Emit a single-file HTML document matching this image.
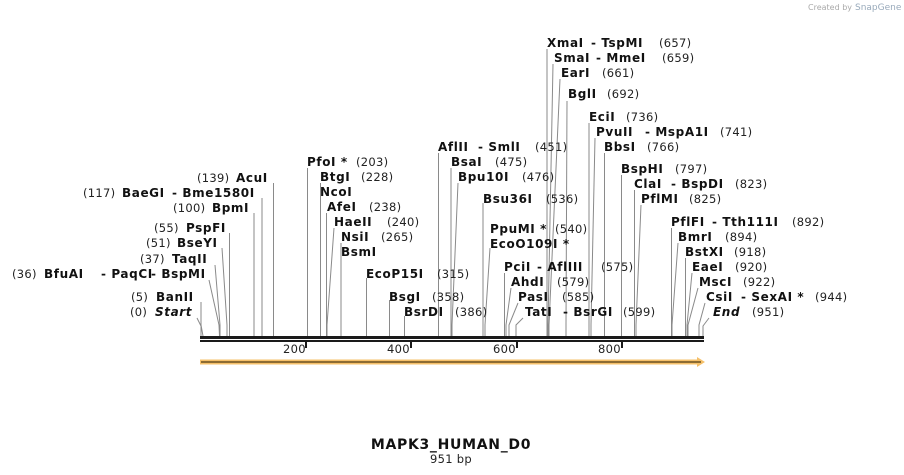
<!DOCTYPE html>
<html><head><meta charset="utf-8"><style>
html,body{margin:0;padding:0;background:#fff;width:904px;height:475px;overflow:hidden}
svg{display:block}
.b{font-family:"DejaVu Sans","Liberation Sans",sans-serif;font-weight:bold;font-size:12px;letter-spacing:0.6px;fill:#111}
.n{font-family:"DejaVu Sans","Liberation Sans",sans-serif;font-size:11.5px;letter-spacing:0.3px;fill:#222}
.i{font-style:italic}
line,polyline{stroke:#8a8a8a;stroke-width:1;fill:none}
</style></head><body>
<svg width="904" height="475" xmlns="http://www.w3.org/2000/svg">
<text x="808" y="10" font-family="DejaVu Sans,sans-serif" font-size="8" fill="#aaa">Created by</text>
<text x="855" y="10" font-family="DejaVu Sans,sans-serif" font-size="9" fill="#9ab">SnapGene</text>
<polyline points="197,318 201,326 201,336"/>
<polyline points="201,302 201,325 203,336"/>
<polyline points="209,280 219,325 219.5,336"/>
<polyline points="215,265 220,325 220,336"/>
<polyline points="222,248 227,325 227,336"/>
<polyline points="229.5,233 229.5,336"/>
<polyline points="254,213 254,336"/>
<polyline points="262,198 262,336"/>
<polyline points="273.5,183 273.5,336"/>
<polyline points="307.5,168 307.5,336"/>
<polyline points="320.5,183 320.5,336"/>
<polyline points="326.5,213 326.5,336"/>
<polyline points="334,228 327,325 327,336"/>
<polyline points="341,243 341,336"/>
<polyline points="366.5,278 366.5,336"/>
<polyline points="389.5,300 389.5,336"/>
<polyline points="404.5,316 404.5,336"/>
<polyline points="438.5,153 438.5,336"/>
<polyline points="451,168 451,336"/>
<polyline points="458,183 452,325 452,336"/>
<polyline points="483,203 483,336"/>
<polyline points="490,248 485,325 485,336"/>
<polyline points="504.5,273 504.5,336"/>
<polyline points="511,288 506,325 506,336"/>
<polyline points="518,303 509,325 509,336"/>
<polyline points="523,318 516,325 516,336"/>
<polyline points="547,49 547,336"/>
<polyline points="553,64 548,325 548,336"/>
<polyline points="560,79 549,325 549,336"/>
<polyline points="567,101 566,325 566,336"/>
<polyline points="589,123 589,336"/>
<polyline points="595,138 591,325 591,336"/>
<polyline points="604.5,153 604.5,336"/>
<polyline points="621.5,175 621.5,336"/>
<polyline points="634.5,190 634.5,336"/>
<polyline points="641,205 636,325 636,336"/>
<polyline points="671.5,228 671.5,336"/>
<polyline points="678,243 672,325 672,336"/>
<polyline points="685.5,258 685.5,336"/>
<polyline points="692,273 687,325 687,336"/>
<polyline points="698,288 688,325 688,336"/>
<polyline points="705,303 699,325 699,336"/>
<polyline points="709,318 703,326 703,336"/>
<rect x="200" y="336" width="504" height="3" fill="#1a1a1a"/>
<rect x="200" y="340" width="504" height="2" fill="#1a1a1a"/>
<rect x="305" y="342" width="2" height="6" fill="#1a1a1a"/>
<rect x="410" y="342" width="2" height="6" fill="#1a1a1a"/>
<rect x="516" y="342" width="2" height="6" fill="#1a1a1a"/>
<rect x="621" y="342" width="2" height="6" fill="#1a1a1a"/>
<text class="n" x="283" y="353">200</text>
<text class="n" x="387" y="353">400</text>
<text class="n" x="493" y="353">600</text>
<text class="n" x="598" y="353">800</text>
<polygon points="200,359.5 697,359.5 697,357 705,362 697,367 697,364.5 200,364.5" fill="#f5c06a"/>
<line x1="201" y1="362" x2="701" y2="362" style="stroke:#6b5020;stroke-width:1.5"/>
<text class="n" x="130" y="316">(0)</text><text class="b i" x="155" y="316">Start</text>
<text class="n" x="131" y="301">(5)</text><text class="b" x="156" y="301">BanII</text>
<text class="n" x="12" y="278">(36)</text><text class="b" x="44" y="278">BfuAI</text><text class="b" x="101" y="278">- PaqCI</text><text class="b" x="151" y="278">- BspMI</text>
<text class="n" x="140" y="263">(37)</text><text class="b" x="172" y="263">TaqII</text>
<text class="n" x="146" y="247">(51)</text><text class="b" x="177" y="247">BseYI</text>
<text class="n" x="154" y="232">(55)</text><text class="b" x="186" y="232">PspFI</text>
<text class="n" x="173" y="212">(100)</text><text class="b" x="212" y="212">BpmI</text>
<text class="n" x="83" y="197">(117)</text><text class="b" x="122" y="197">BaeGI</text><text class="b" x="172" y="197">- Bme1580I</text>
<text class="n" x="197" y="182">(139)</text><text class="b" x="236" y="182">AcuI</text>
<text class="b" x="307" y="166">PfoI *</text><text class="n" x="356" y="166">(203)</text>
<text class="b" x="320" y="181">BtgI</text><text class="n" x="361" y="181">(228)</text>
<text class="b" x="320" y="196">NcoI</text>
<text class="b" x="327" y="211">AfeI</text><text class="n" x="369" y="211">(238)</text>
<text class="b" x="334" y="226">HaeII</text><text class="n" x="387" y="226">(240)</text>
<text class="b" x="341" y="241">NsiI</text><text class="n" x="381" y="241">(265)</text>
<text class="b" x="341" y="256">BsmI</text>
<text class="b" x="366" y="278">EcoP15I</text><text class="n" x="437" y="278">(315)</text>
<text class="b" x="389" y="301">BsgI</text><text class="n" x="432" y="301">(358)</text>
<text class="b" x="404" y="316">BsrDI</text><text class="n" x="455" y="316">(386)</text>
<text class="b" x="438" y="151">AflII</text><text class="b" x="478" y="151">- SmlI</text><text class="n" x="535" y="151">(451)</text>
<text class="b" x="451" y="166">BsaI</text><text class="n" x="495" y="166">(475)</text>
<text class="b" x="458" y="181">Bpu10I</text><text class="n" x="522" y="181">(476)</text>
<text class="b" x="483" y="203">Bsu36I</text><text class="n" x="546" y="203">(536)</text>
<text class="b" x="490" y="233">PpuMI *</text><text class="n" x="555" y="233">(540)</text>
<text class="b" x="490" y="248">EcoO109I *</text>
<text class="b" x="504" y="271">PciI</text><text class="b" x="537" y="271">- AflIII</text><text class="n" x="601" y="271">(575)</text>
<text class="b" x="511" y="286">AhdI</text><text class="n" x="557" y="286">(579)</text>
<text class="b" x="518" y="301">PasI</text><text class="n" x="562" y="301">(585)</text>
<text class="b" x="525" y="316">TatI</text><text class="b" x="563" y="316">- BsrGI</text><text class="n" x="623" y="316">(599)</text>
<text class="b" x="547" y="47">XmaI</text><text class="b" x="591" y="47">- TspMI</text><text class="n" x="659" y="47">(657)</text>
<text class="b" x="554" y="62">SmaI</text><text class="b" x="596" y="62">- MmeI</text><text class="n" x="662" y="62">(659)</text>
<text class="b" x="561" y="77">EarI</text><text class="n" x="602" y="77">(661)</text>
<text class="b" x="568" y="98">BglI</text><text class="n" x="607" y="98">(692)</text>
<text class="b" x="589" y="121">EciI</text><text class="n" x="626" y="121">(736)</text>
<text class="b" x="596" y="136">PvuII</text><text class="b" x="645" y="136">- MspA1I</text><text class="n" x="720" y="136">(741)</text>
<text class="b" x="604" y="151">BbsI</text><text class="n" x="647" y="151">(766)</text>
<text class="b" x="621" y="173">BspHI</text><text class="n" x="675" y="173">(797)</text>
<text class="b" x="634" y="188">ClaI</text><text class="b" x="671" y="188">- BspDI</text><text class="n" x="735" y="188">(823)</text>
<text class="b" x="641" y="203">PflMI</text><text class="n" x="689" y="203">(825)</text>
<text class="b" x="671" y="226">PflFI</text><text class="b" x="712" y="226">- Tth111I</text><text class="n" x="792" y="226">(892)</text>
<text class="b" x="678" y="241">BmrI</text><text class="n" x="725" y="241">(894)</text>
<text class="b" x="685" y="256">BstXI</text><text class="n" x="734" y="256">(918)</text>
<text class="b" x="692" y="271">EaeI</text><text class="n" x="735" y="271">(920)</text>
<text class="b" x="699" y="286">MscI</text><text class="n" x="743" y="286">(922)</text>
<text class="b" x="706" y="301">CsiI</text><text class="b" x="741" y="301">- SexAI *</text><text class="n" x="815" y="301">(944)</text>
<text class="b i" x="713" y="316">End</text><text class="n" x="752" y="316">(951)</text>
<text class="b" x="451" y="449" text-anchor="middle" style="font-size:14px;letter-spacing:0.7px">MAPK3_HUMAN_D0</text>
<text class="n" x="451" y="463" text-anchor="middle">951 bp</text>
</svg>
</body></html>
